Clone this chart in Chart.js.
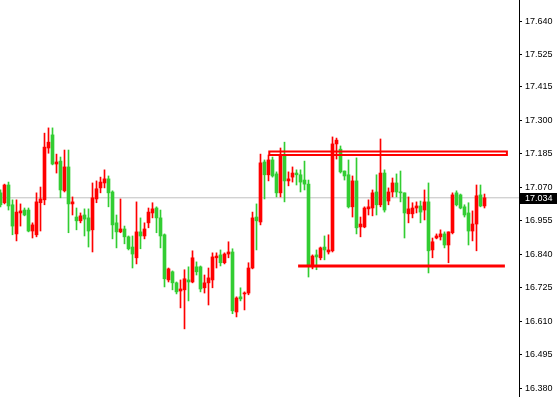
<!DOCTYPE html>
<html>
<head>
<meta charset="utf-8">
<script src="https://cdn.jsdelivr.net/npm/chart.js@4.4.1/dist/chart.umd.min.js"></script>
<style>
  html, body { margin: 0; padding: 0; background: #fff; }
  #wrap { width: 560px; height: 397px; position: relative; }
</style>
</head>
<body>
<div id="wrap"><canvas id="chart"></canvas></div>
<script>
/* ---- Data ---- */

const opens = [
  17.051, 17.017, 17.078, 17.010, 16.910, 16.982, 16.992, 16.992, 16.920, 16.907,
  17.017, 17.027, 17.205, 17.250, 17.150, 17.160, 17.058, 17.140, 17.013, 16.968,
  16.955, 16.975, 16.965, 16.924, 17.030, 17.068, 17.085, 17.099, 17.054, 16.948,
  16.917, 16.927, 16.900, 16.865, 16.828, 16.917, 16.903, 16.948, 16.982, 16.999,
  16.965, 16.907, 16.752, 16.780, 16.742, 16.714, 16.718, 16.752, 16.745, 16.797,
  16.797, 16.725, 16.742, 16.752, 16.828, 16.838, 16.811, 16.841, 16.848, 16.642,
  16.694, 16.704, 16.707, 16.793, 16.968, 16.951, 17.157, 17.113, 17.164, 17.116,
  17.051, 17.181, 17.092, 17.105, 17.119, 17.113, 17.095, 17.081, 16.797, 16.838,
  16.828, 16.865, 16.848, 16.852, 17.219, 17.201, 17.126, 17.113, 17.003, 17.092,
  16.934, 16.934, 16.996, 16.999, 17.054, 17.010, 17.119, 17.023, 17.054, 17.085,
  17.054, 17.051, 16.979, 16.979, 16.999, 17.006, 16.992, 17.020, 16.855, 16.896,
  16.900, 16.910, 16.872, 16.914, 17.051, 17.044, 17.003, 16.982, 16.920, 16.944,
  17.044, 17.006
];

const highs = [
  17.061, 17.081, 17.088, 17.027, 17.027, 17.013, 16.999, 16.999, 16.948, 17.051,
  17.071, 17.256, 17.274, 17.274, 17.184, 17.174, 17.198, 17.198, 17.037, 16.999,
  16.982, 16.996, 16.996, 17.085, 17.092, 17.105, 17.130, 17.109, 17.058, 16.975,
  17.030, 16.937, 16.903, 16.903, 17.020, 16.965, 16.948, 16.999, 17.017, 17.003,
  16.992, 16.910, 16.793, 16.783, 16.745, 16.752, 16.787, 16.797, 16.852, 16.814,
  16.800, 16.769, 16.793, 16.845, 16.845, 16.855, 16.845, 16.883, 16.859, 16.694,
  16.725, 16.711, 16.811, 16.985, 17.013, 17.184, 17.164, 17.181, 17.174, 17.123,
  17.205, 17.225, 17.123, 17.140, 17.130, 17.130, 17.160, 17.095, 16.838, 16.855,
  16.865, 16.903, 16.907, 17.243, 17.239, 17.212, 17.126, 17.164, 17.109, 17.171,
  16.968, 17.003, 17.027, 17.061, 17.113, 17.236, 17.130, 17.068, 17.102, 17.116,
  17.126, 17.051, 17.037, 17.017, 17.020, 17.023, 17.061, 17.085, 16.896, 16.910,
  16.924, 16.917, 16.917, 17.051, 17.058, 17.047, 17.010, 17.017, 16.989, 17.078,
  17.078, 17.047
];

const lows = [
  17.003, 17.013, 16.992, 16.907, 16.886, 16.937, 16.972, 16.917, 16.896, 16.900,
  16.920, 17.010, 17.187, 17.147, 17.119, 17.034, 17.054, 16.914, 16.975, 16.924,
  16.948, 16.903, 16.865, 16.848, 17.017, 17.051, 17.068, 17.003, 16.893, 16.862,
  16.914, 16.876, 16.855, 16.793, 16.807, 16.859, 16.893, 16.931, 16.965, 16.914,
  16.862, 16.728, 16.745, 16.718, 16.704, 16.656, 16.584, 16.680, 16.742, 16.769,
  16.711, 16.707, 16.666, 16.725, 16.793, 16.800, 16.807, 16.828, 16.636, 16.625,
  16.680, 16.649, 16.701, 16.790, 16.855, 16.941, 17.030, 17.092, 17.105, 17.037,
  17.037, 17.020, 17.075, 17.088, 17.078, 17.054, 17.061, 16.762, 16.790, 16.787,
  16.821, 16.821, 16.841, 16.848, 17.167, 17.119, 17.095, 16.999, 16.968, 16.910,
  16.900, 16.931, 16.975, 16.972, 16.975, 17.003, 16.985, 17.010, 17.037, 17.037,
  17.020, 16.896, 16.948, 16.965, 16.982, 16.948, 16.958, 16.776, 16.828, 16.893,
  16.889, 16.862, 16.811, 16.910, 17.006, 16.996, 16.968, 16.872, 16.886, 16.852,
  17.003, 16.999
];

const closes = [
  17.010, 17.078, 17.006, 16.937, 16.985, 16.989, 16.975, 16.920, 16.941, 17.020,
  17.030, 17.208, 17.225, 17.150, 17.157, 17.061, 17.140, 17.013, 17.020, 16.955,
  16.972, 16.961, 16.920, 17.034, 17.065, 17.088, 17.099, 17.051, 16.941, 16.917,
  16.927, 16.900, 16.859, 16.841, 16.917, 16.903, 16.927, 16.985, 16.996, 16.965,
  16.903, 16.756, 16.790, 16.742, 16.711, 16.721, 16.756, 16.745, 16.828, 16.780,
  16.721, 16.742, 16.759, 16.831, 16.834, 16.811, 16.841, 16.848, 16.646, 16.690,
  16.687, 16.707, 16.793, 16.965, 16.955, 17.154, 17.113, 17.164, 17.109, 17.051,
  17.181, 17.092, 17.099, 17.119, 17.113, 17.088, 17.081, 16.804, 16.834, 16.831,
  16.862, 16.855, 16.855, 17.219, 17.232, 17.123, 17.109, 17.003, 17.092, 16.931,
  16.944, 16.999, 17.003, 17.051, 17.010, 17.119, 16.992, 17.054, 17.085, 17.054,
  17.051, 16.982, 16.996, 16.999, 17.006, 16.985, 17.020, 16.852, 16.883, 16.903,
  16.910, 16.872, 16.917, 17.044, 17.010, 16.999, 16.975, 16.920, 16.944, 17.041,
  17.006, 17.034
];

const priceTicks = [17.640, 17.525, 17.415, 17.300, 17.185, 17.070,
                    16.955, 16.840, 16.725, 16.610, 16.495, 16.380];

// drawn objects: rectangle zone and support line (bar index, price)
const zoneBars = [67.2, 126.6];
const zonePrices = [17.193, 17.181];
const supportBars = [74.4, 126.1];
const supportPrice = 16.800;

const lastPrice = closes[closes.length - 1];

/* ---- Styles ---- */

const BULL = '#ff0000';
const BEAR = '#32cd32';
const AXIS_FONT = { family: "'Liberation Sans', Arial, sans-serif", size: 9 };

const candleColor = (i) => (closes[i] > opens[i] ? BULL : BEAR);

const wickData = lows.map((l, i) => ({ x: i, y: [l, highs[i]] }));
const bodyData = opens.map((o, i) => ({ x: i, y: [o, closes[i]] }));

/* ---- Price label on the axis ---- */

const priceTag = {
  id: 'priceTag',
  afterDraw(chart) {
    const { ctx } = chart;
    const y = Math.round(chart.scales.y.getPixelForValue(lastPrice));
    ctx.save();
    ctx.fillStyle = '#000';
    ctx.fillRect(520, y - 5, 37, 11);
    ctx.fillStyle = '#fff';
    ctx.font = `${AXIS_FONT.size}px ${AXIS_FONT.family}`;
    ctx.textBaseline = 'middle';
    ctx.fillText(lastPrice.toFixed(3), 525, y + 0.5);
    ctx.restore();
  }
};

new Chart(document.getElementById('chart'), {
  type: 'bar',
  data: {
    datasets: [
      {
        type: 'line',
        data: [{ x: -1, y: lastPrice }, { x: 131, y: lastPrice }],
        borderColor: '#c0c0c0',
        borderWidth: 1,
        pointRadius: 0,
        order: 5,
      },
      {
        data: wickData,
        backgroundColor: (c) => candleColor(c.dataIndex),
        barThickness: 1,
        grouped: false,
        borderWidth: 0,
        order: 3,
      },
      {
        data: bodyData,
        backgroundColor: (c) => candleColor(c.dataIndex),
        barThickness: 3,
        minBarLength: 1,
        grouped: false,
        borderWidth: 0,
        order: 2,
      },
      {
        type: 'line',
        data: [
          { x: zoneBars[0], y: zonePrices[0] },
          { x: zoneBars[1], y: zonePrices[0] },
          { x: zoneBars[1], y: zonePrices[1] },
          { x: zoneBars[0], y: zonePrices[1] },
          { x: zoneBars[0], y: zonePrices[0] },
          { x: zoneBars[1], y: zonePrices[0] },
        ],
        borderColor: BULL,
        borderWidth: 2,
        pointRadius: 0,
        tension: 0,
        order: 1,
      },
      {
        type: 'line',
        data: [{ x: supportBars[0], y: supportPrice }, { x: supportBars[1], y: supportPrice }],
        borderColor: BULL,
        borderWidth: 3,
        pointRadius: 0,
        order: 1,
      },
    ],
  },
  options: {
    responsive: true,
    maintainAspectRatio: false,
    animation: false,
    layout: { padding: 0 },
    plugins: {
      legend: { display: false },
      tooltip: { enabled: false },
    },
    scales: {
      x: {
        type: 'linear',
        display: false,
        offset: false,
        min: -0.125,
        max: 129.625,
      },
      y: {
        position: 'right',
        min: 16.3501,
        max: 17.7131,
        afterBuildTicks: (scale) => {
          scale.ticks = priceTicks.map((v) => ({ value: v }));
        },
        afterFit: (scale) => {
          scale.width = 41;
          scale.paddingTop = 0;
          scale.paddingBottom = 0;
        },
        grid: {
          drawOnChartArea: false,
          drawTicks: true,
          tickLength: 3,
          color: '#000',
        },
        border: { display: true, color: '#000', width: 1 },
        ticks: {
          color: '#000',
          font: AXIS_FONT,
          padding: 3,
          autoSkip: false,
          callback: (v) => Number(v).toFixed(3),
        },
      },
    },
  },
  plugins: [priceTag],
});
</script>
</body>
</html>
